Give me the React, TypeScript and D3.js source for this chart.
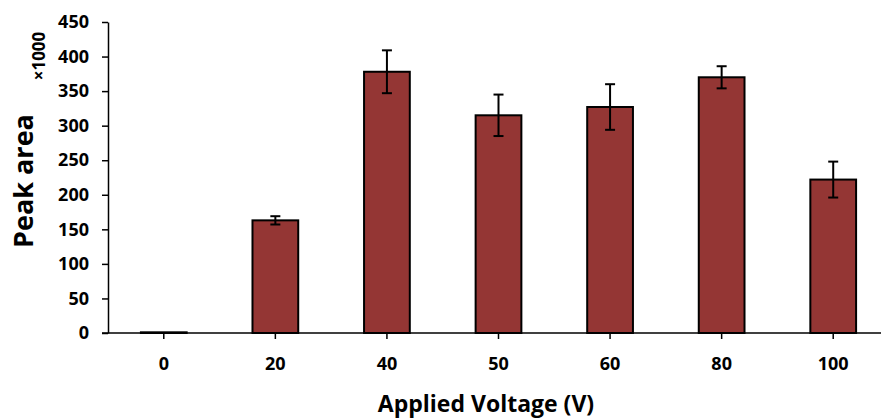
// Bar chart of peak area vs applied voltage, drawn with d3 into an svg via ref
import React, { useRef, useEffect } from 'react';
import * as d3 from 'd3';

// data
const voltages = ['0', '20', '40', '50', '60', '80', '100'];
const peakArea = [1, 163, 378, 315, 327, 370, 222];
const errors = [0, 6, 31, 30, 33, 16, 26];
const yTicks = [0, 50, 100, 150, 200, 250, 300, 350, 400, 450];

const width = 881;
const height = 418;
const margin = { top: 22, right: -8, bottom: 85, left: 108 };
const font = '"Open Sans", Lato, sans-serif';

export default function App() {
  const ref = useRef<SVGSVGElement>(null);

  useEffect(() => {
    const svg = d3.select(ref.current);
    svg.selectAll('*').remove();

    const x = d3.scaleBand()
      .domain(voltages)
      .range([margin.left, width - margin.right])
      .paddingInner(0.59)
      .paddingOuter(0.295);

    const y = d3.scaleLinear()
      .domain([0, 450])
      .range([height - margin.bottom, margin.top]);

    const rows = voltages.map((v, i) => ({ v, val: peakArea[i], err: errors[i] }));

    // bars
    svg.selectAll('.bar')
      .data(rows)
      .enter()
      .append('rect')
      .attr('class', 'bar')
      .attr('x', d => x(d.v)!)
      .attr('y', d => y(d.val))
      .attr('width', x.bandwidth())
      .attr('height', d => y(0) - y(d.val))
      .style('fill', '#943634')
      .style('stroke', 'black')
      .style('stroke-width', 2);

    // error bars
    const eb = svg.selectAll('.err')
      .data(rows.filter(d => d.err > 0))
      .enter()
      .append('g')
      .attr('class', 'err')
      .attr('transform', d => `translate(${x(d.v)! + x.bandwidth() / 2},0)`)
      .style('stroke', 'black')
      .style('stroke-width', 2);
    eb.append('line')
      .attr('y1', d => y(d.val - d.err))
      .attr('y2', d => y(d.val + d.err));
    eb.append('line')
      .attr('x1', -5).attr('x2', 5)
      .attr('y1', d => y(d.val + d.err))
      .attr('y2', d => y(d.val + d.err));
    eb.append('line')
      .attr('x1', -5).attr('x2', 5)
      .attr('y1', d => y(d.val - d.err))
      .attr('y2', d => y(d.val - d.err));

    // x axis
    const xAxis = svg.append('g')
      .attr('transform', `translate(0,${y(0)})`)
      .call(d3.axisBottom(x).tickSize(6).tickSizeOuter(0).tickPadding(18));
    xAxis.select('.domain').attr('d', `M${margin.left - 6},0H${width}`).style('stroke-width', 1.5);
    xAxis.selectAll('line').style('stroke-width', 1.5);
    xAxis.selectAll('text')
      .style('font-family', font)
      .style('font-weight', 'bold')
      .style('font-size', '18px');

    // y axis
    const yAxis = svg.append('g')
      .attr('transform', `translate(${margin.left},0)`)
      .call(d3.axisLeft(y).tickValues(yTicks).tickSize(6).tickSizeOuter(0).tickPadding(13));
    yAxis.select('.domain').style('stroke-width', 1.5);
    yAxis.selectAll('line').style('stroke-width', 1.5);
    yAxis.selectAll('text')
      .style('font-family', font)
      .style('font-weight', 'bold')
      .style('font-size', '18px');

    // titles
    svg.append('text')
      .attr('transform', 'translate(33,181) rotate(-90)')
      .attr('text-anchor', 'middle')
      .style('font-family', font)
      .style('font-weight', 'bold')
      .style('font-size', '27px')
      .text('Peak area');

    svg.append('text')
      .attr('transform', 'translate(45,56) rotate(-90)')
      .attr('text-anchor', 'middle')
      .style('font-family', font)
      .style('font-weight', 'bold')
      .style('font-size', '17px')
      .text('×1000');

    svg.append('text')
      .attr('x', 486)
      .attr('y', 412)
      .attr('text-anchor', 'middle')
      .style('font-family', font)
      .style('font-weight', 'bold')
      .style('font-size', '23px')
      .text('Applied Voltage (V)');
  }, []);

  return (
    <svg ref={ref} width={width} height={height}
      style={{ position: 'absolute', left: 0, top: 0, background: 'white' }} />
  );
}
